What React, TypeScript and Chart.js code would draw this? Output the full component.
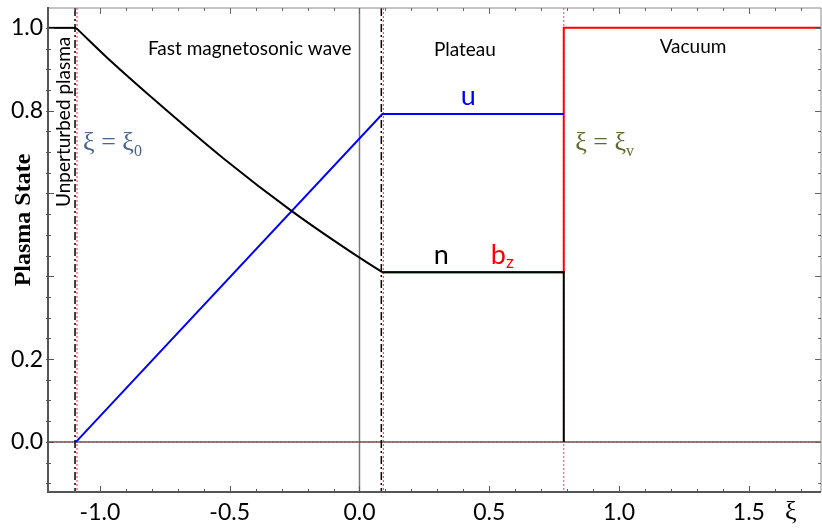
import React, { useEffect, useRef } from "react";
import { Chart, registerables } from "chart.js";

Chart.register(...registerables);

// ---- axis ranges ----
const XI_MIN = -1.2;
const XI_MAX = 1.778;
const Y_MIN = -0.121;
const Y_MAX = 1.048;

// ---- characteristic positions ----
const xiFront = -1.092; // ξ = ξ0
const xiPlateau = 0.088; // end of the fast magnetosonic wave
const xiVacuum = 0.787; // ξ = ξv

// ---- plasma state values ----
const nUnperturbed = 1.0;
const nPlateau = 0.41;
const uPlateau = 0.792;
const bzVacuum = 1.0;

// ---- density inside the fast magnetosonic wave ----
const xiWave = [-1.092, -0.95, -0.808, -0.519, -0.262, 0.0, 0.088];
const nWave = [1.0, 0.915, 0.836, 0.682, 0.558, 0.445, 0.41];

// ---- tick labels ----
const xTickValues = [-1.0, -0.5, 0.0, 0.5, 1.0, 1.5];
const yTickValues = [0.0, 0.2, 0.8, 1.0];

const SANS = 'Lato, "Open Sans", sans-serif';
const SERIF = '"Liberation Serif", "DejaVu Serif", serif';

function seg(ctx: CanvasRenderingContext2D, x1: number, y1: number, x2: number, y2: number, color: string, width: number, dash: number[] = []) {
  ctx.save();
  ctx.beginPath();
  ctx.strokeStyle = color;
  ctx.lineWidth = width;
  ctx.setLineDash(dash);
  ctx.moveTo(x1, y1);
  ctx.lineTo(x2, y2);
  ctx.stroke();
  ctx.restore();
}

function text(ctx: CanvasRenderingContext2D, s: string, x: number, y: number, font: string, color: string, align: CanvasTextAlign = "center") {
  ctx.save();
  ctx.font = font;
  ctx.fillStyle = color;
  ctx.textAlign = align;
  ctx.textBaseline = "alphabetic";
  ctx.fillText(s, x, y);
  const w = ctx.measureText(s).width;
  ctx.restore();
  return w;
}

function subText(ctx: CanvasRenderingContext2D, main: string, sub: string, x: number, y: number, mainFont: string, subFont: string, subDy: number, color: string) {
  const w = text(ctx, main, x, y, mainFont, color, "left");
  text(ctx, sub, x + w, y + subDy, subFont, color, "left");
}

function rotText(ctx: CanvasRenderingContext2D, s: string, x: number, y: number, font: string, color: string) {
  ctx.save();
  ctx.translate(x, y);
  ctx.rotate(-Math.PI / 2);
  ctx.font = font;
  ctx.fillStyle = color;
  ctx.textAlign = "center";
  ctx.textBaseline = "alphabetic";
  ctx.fillText(s, 0, 0);
  ctx.restore();
}

const decor = {
  id: "decor",
  beforeDatasetsDraw(chart: any) {
    const { ctx, chartArea: a, scales } = chart;
    const x = scales.x;
    const y = scales.y;
    const x0 = x.getPixelForValue(0);
    seg(ctx, x0, a.top, x0, a.bottom, "#7a7a7a", 1.5);
    const y0 = y.getPixelForValue(0);
    seg(ctx, a.left, y0, a.right, y0, "#5a5a5a", 1.5);
    seg(ctx, a.left, y0, a.right, y0, "rgba(200,40,40,0.8)", 1, [1, 3]);
    const xv = x.getPixelForValue(xiVacuum);
    seg(ctx, xv, a.top, xv, a.bottom, "#ff4040", 1, [2, 2]);
    for (const v of [xiFront, xiPlateau]) {
      const px = x.getPixelForValue(v);
      seg(ctx, px - 1, a.top, px - 1, a.bottom, "#000", 1.5, [8, 3, 2, 3]);
      seg(ctx, px + 1, a.top, px + 1, a.bottom, "#ff3030", 1, [2, 2]);
    }
  },
  afterDraw(chart: any) {
    const { ctx, chartArea: a, scales } = chart;
    const x = scales.x;
    const y = scales.y;
    // frame
    seg(ctx, a.left, a.top, a.right, a.top, "#8a8a8a", 1);
    seg(ctx, a.right, a.top, a.right, a.bottom, "#8a8a8a", 1);
    seg(ctx, a.left, a.bottom, a.right, a.bottom, "#555", 2);
    seg(ctx, a.left, a.top - 1, a.left, a.bottom + 1, "#555", 2);
    for (let i = Math.ceil(XI_MIN / 0.1); i * 0.1 <= XI_MAX + 1e-9; i++) {
      const v = i * 0.1;
      const major = i % 5 === 0;
      const len = major ? 6 : 3;
      const px = Math.round(x.getPixelForValue(v)) + 0.5;
      seg(ctx, px, a.bottom, px, a.bottom - len, "#555", 1);
      seg(ctx, px, a.top, px, a.top + len, "#666", 1);
    }
    for (let i = Math.ceil(Y_MIN / 0.05); i * 0.05 <= Y_MAX + 1e-9; i++) {
      const v = i * 0.05;
      const major = i % 4 === 0;
      const len = major ? 6 : 3;
      const py = Math.round(y.getPixelForValue(v)) + 0.5;
      seg(ctx, a.left - 2, py, a.left + len, py, "#555", 1);
      seg(ctx, a.right, py, a.right - len, py, "#666", 1);
    }

    const X = (v: number) => x.getPixelForValue(v);
    const Y = (v: number) => y.getPixelForValue(v);

    text(ctx, "Fast magnetosonic wave", X(-0.423), Y(0.934), `19px ${SANS}`, "#000");
    text(ctx, "Plateau", X(0.406), Y(0.932), `19px ${SANS}`, "#000");
    text(ctx, "Vacuum", X(1.285), Y(0.94), `19px ${SANS}`, "#000");
    rotText(ctx, "Unperturbed plasma", X(-1.115), Y(0.773), `19px ${SANS}`, "#000");

    text(ctx, "u", X(0.419), Y(0.814), `27px ${SANS}`, "#0000ff");
    text(ctx, "n", X(0.315), Y(0.43), `27px ${SANS}`, "#000");
    subText(ctx, "b", "z", X(0.506), Y(0.43), `27px ${SANS}`, `17px ${SANS}`, 4, "#ff0000");

    subText(ctx, "ξ = ξ", "0", X(-1.065), Y(0.704), `26px ${SERIF}`, `16px ${SERIF}`, 6, "#46648e");
    subText(ctx, "ξ = ξ", "v", X(0.831), Y(0.704), `26px ${SERIF}`, `16px ${SERIF}`, 6, "#5b6b2f");

    rotText(ctx, "Plasma State", a.left - 18, Y(0.536), `bold 24px ${SERIF}`, "#000");
    text(ctx, "ξ", X(1.662), a.bottom + 27, `26px ${SERIF}`, "#000");
  },
};

export default function App() {
  const ref = useRef<HTMLCanvasElement | null>(null);

  useEffect(() => {
    if (!ref.current) return;
    const pts = (xs: number[], ys: number[]) => xs.map((v, i) => ({ x: v, y: ys[i] }));

    const chart = new Chart(ref.current, {
      type: "line",
      data: {
        datasets: [
          {
            label: "n (unperturbed)",
            data: pts([XI_MIN, xiFront], [nUnperturbed, nUnperturbed]),
            borderColor: "#000",
            borderWidth: 2,
            pointRadius: 0,
            tension: 0,
          },
          {
            label: "n (wave)",
            data: pts(xiWave, nWave),
            borderColor: "#000",
            borderWidth: 2,
            pointRadius: 0,
            cubicInterpolationMode: "monotone",
          },
          {
            label: "n (plateau)",
            data: pts([xiPlateau, xiVacuum, xiVacuum], [nPlateau, nPlateau, 0]),
            borderColor: "#000",
            borderWidth: 2,
            pointRadius: 0,
            tension: 0,
          },
          {
            label: "u",
            data: pts([xiFront, xiPlateau, xiVacuum], [0, uPlateau, uPlateau]),
            borderColor: "#0000ff",
            borderWidth: 2,
            pointRadius: 0,
            tension: 0,
          },
          {
            label: "b_z",
            data: pts([xiPlateau, xiVacuum, xiVacuum, XI_MAX], [nPlateau, nPlateau, bzVacuum, bzVacuum]),
            borderColor: "#ff0000",
            borderWidth: 2,
            pointRadius: 0,
            tension: 0,
          },
        ],
      },
      options: {
        responsive: false,
        animation: false,
        layout: { padding: { top: 8, right: 1, left: 0, bottom: 0 } },
        plugins: { legend: { display: false }, tooltip: { enabled: false } },
        scales: {
          x: {
            type: "linear",
            min: XI_MIN,
            max: XI_MAX,
            grid: { display: false, drawTicks: false },
            border: { display: false },
            afterBuildTicks: (s: any) => {
              s.ticks = xTickValues.map((v) => ({ value: v }));
            },
            afterFit: (s: any) => {
              s.height = 36;
              s.paddingLeft = 0;
              s.paddingRight = 0;
            },
            ticks: {
              padding: 7,
              color: "#000",
              font: { family: SANS, size: 23 },
              maxRotation: 0,
              callback: (v: any) => Number(v).toFixed(1),
            },
          },
          y: {
            type: "linear",
            min: Y_MIN,
            max: Y_MAX,
            grid: { display: false, drawTicks: false },
            border: { display: false },
            afterBuildTicks: (s: any) => {
              s.ticks = yTickValues.map((v) => ({ value: v }));
            },
            afterFit: (s: any) => {
              s.width = 48;
              s.paddingTop = 0;
              s.paddingBottom = 0;
            },
            ticks: {
              padding: 5,
              color: "#000",
              font: { family: SANS, size: 23 },
              callback: (v: any) => Number(v).toFixed(1),
            },
          },
        },
      },
      plugins: [decor],
    });
    return () => chart.destroy();
  }, []);

  return (
    <div style={{ position: "fixed", left: 0, top: 0, width: 822, height: 528, background: "#fff" }}>
      <canvas ref={ref} width={822} height={528} style={{ display: "block" }} />
    </div>
  );
}
